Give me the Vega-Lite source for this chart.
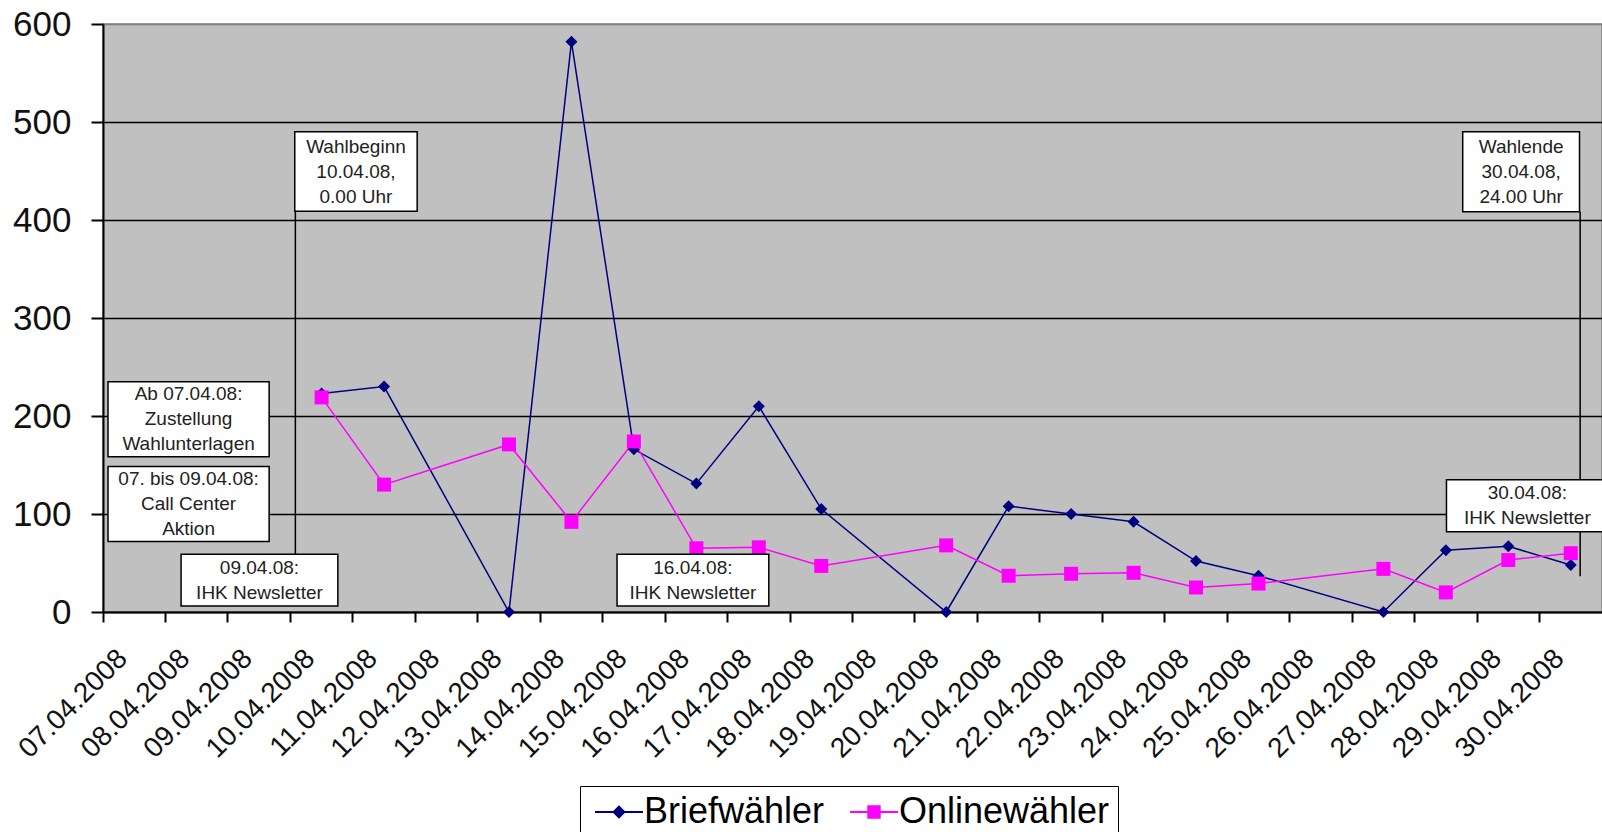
{
  "$schema": "https://vega.github.io/schema/vega-lite/v6.json",
  "width": 1499,
  "height": 588,
  "autosize": {"type": "none"},
  "padding": {"left": 103, "top": 24, "right": 0, "bottom": 220},
  "background": "white",
  "config": {
    "font": "Liberation Sans",
    "view": {"fill": "#C0C0C0", "stroke": "#808080", "strokeWidth": 1.5}
  },
  "datasets": {
    "series": [
      {"date": "10.04.2008", "series": "Briefwähler", "value": 223},
      {"date": "11.04.2008", "series": "Briefwähler", "value": 230},
      {"date": "13.04.2008", "series": "Briefwähler", "value": 0},
      {"date": "14.04.2008", "series": "Briefwähler", "value": 582},
      {"date": "15.04.2008", "series": "Briefwähler", "value": 166},
      {"date": "16.04.2008", "series": "Briefwähler", "value": 131},
      {"date": "17.04.2008", "series": "Briefwähler", "value": 210},
      {"date": "18.04.2008", "series": "Briefwähler", "value": 105},
      {"date": "20.04.2008", "series": "Briefwähler", "value": 0},
      {"date": "21.04.2008", "series": "Briefwähler", "value": 108},
      {"date": "22.04.2008", "series": "Briefwähler", "value": 100},
      {"date": "23.04.2008", "series": "Briefwähler", "value": 92},
      {"date": "24.04.2008", "series": "Briefwähler", "value": 52},
      {"date": "25.04.2008", "series": "Briefwähler", "value": 37},
      {"date": "27.04.2008", "series": "Briefwähler", "value": 0},
      {"date": "28.04.2008", "series": "Briefwähler", "value": 63},
      {"date": "29.04.2008", "series": "Briefwähler", "value": 67},
      {"date": "30.04.2008", "series": "Briefwähler", "value": 48},
      {"date": "10.04.2008", "series": "Onlinewähler", "value": 219},
      {"date": "11.04.2008", "series": "Onlinewähler", "value": 130},
      {"date": "13.04.2008", "series": "Onlinewähler", "value": 171},
      {"date": "14.04.2008", "series": "Onlinewähler", "value": 92},
      {"date": "15.04.2008", "series": "Onlinewähler", "value": 174},
      {"date": "16.04.2008", "series": "Onlinewähler", "value": 65},
      {"date": "17.04.2008", "series": "Onlinewähler", "value": 66},
      {"date": "18.04.2008", "series": "Onlinewähler", "value": 47},
      {"date": "20.04.2008", "series": "Onlinewähler", "value": 68},
      {"date": "21.04.2008", "series": "Onlinewähler", "value": 37},
      {"date": "22.04.2008", "series": "Onlinewähler", "value": 39},
      {"date": "23.04.2008", "series": "Onlinewähler", "value": 40},
      {"date": "24.04.2008", "series": "Onlinewähler", "value": 25},
      {"date": "25.04.2008", "series": "Onlinewähler", "value": 29},
      {"date": "27.04.2008", "series": "Onlinewähler", "value": 44},
      {"date": "28.04.2008", "series": "Onlinewähler", "value": 20},
      {"date": "29.04.2008", "series": "Onlinewähler", "value": 53},
      {"date": "30.04.2008", "series": "Onlinewähler", "value": 60}
    ],
    "ann": [
      {"label": "Wahlbeginn\n10.04.08,\n0.00 Uhr", "x1": 3.07, "x2": 5.03, "y1": 409, "y2": 490},
      {"label": "Wahlende\n30.04.08,\n24.00 Uhr", "x1": 21.77, "x2": 23.64, "y1": 408.5, "y2": 490},
      {"label": "Ab 07.04.08:\nZustellung\nWahlunterlagen", "x1": 0.08, "x2": 2.66, "y1": 158.5, "y2": 235},
      {"label": "07. bis 09.04.08:\nCall Center\nAktion", "x1": 0.08, "x2": 2.66, "y1": 72, "y2": 148.5},
      {"label": "09.04.08:\nIHK Newsletter", "x1": 1.25, "x2": 3.76, "y1": 6, "y2": 59},
      {"label": "16.04.08:\nIHK Newsletter", "x1": 8.23, "x2": 10.66, "y1": 6, "y2": 59},
      {"label": "30.04.08:\nIHK Newsletter", "x1": 21.51, "x2": 24.1, "y1": 81.8, "y2": 135}
    ],
    "rules": [
      {"x": 3.08, "y1": 30, "y2": 409},
      {"x": 23.65, "y1": 36.6, "y2": 408.5}
    ]
  },
  "layer": [
    {
      "data": {"name": "series"},
      "encoding": {
        "x": {
          "field": "date",
          "type": "nominal",
          "bandPosition": 0.5,
          "scale": {
            "type": "band",
            "paddingInner": 0,
            "paddingOuter": 0,
            "domain": ["07.04.2008", "08.04.2008", "09.04.2008", "10.04.2008", "11.04.2008", "12.04.2008", "13.04.2008", "14.04.2008", "15.04.2008", "16.04.2008", "17.04.2008", "18.04.2008", "19.04.2008", "20.04.2008", "21.04.2008", "22.04.2008", "23.04.2008", "24.04.2008", "25.04.2008", "26.04.2008", "27.04.2008", "28.04.2008", "29.04.2008", "30.04.2008"]
          },
          "axis": {
            "title": null,
            "bandPosition": 0,
            "grid": false,
            "domainColor": "black",
            "domainWidth": 2,
            "tickColor": "black",
            "tickWidth": 2,
            "tickSize": 10,
            "labelAngle": -45,
            "labelAlign": "right",
            "labelBaseline": "middle",
            "labelOffset": -11,
            "labelPadding": 32,
            "labelFontSize": 28,
            "labelColor": "#111111",
            "labelOverlap": false,
            "labelFont": "Liberation Sans"
          }
        },
        "y": {
          "field": "value",
          "type": "quantitative",
          "scale": {"domain": [0, 600], "nice": false},
          "axis": {
            "title": null,
            "values": [0, 100, 200, 300, 400, 500, 600],
            "grid": true,
            "gridColor": {"condition": {"test": "datum.value === 600", "value": "#808080"}, "value": "black"},
            "gridWidth": 1.5,
            "gridOpacity": 1,
            "domainColor": "black",
            "domainWidth": 2,
            "tickColor": "black",
            "tickWidth": 2,
            "tickSize": 12,
            "labelPadding": 20,
            "labelFontSize": 35,
            "labelColor": "#111111",
            "labelFont": "Liberation Sans"
          }
        },
        "color": {
          "field": "series",
          "type": "nominal",
          "scale": {"domain": ["Briefwähler", "Onlinewähler"], "range": ["#000080", "#FF00FF"]},
          "legend": {
            "title": null,
            "orient": "none",
            "legendX": 477,
            "legendY": 762,
            "direction": "horizontal",
            "labelFontSize": 36,
            "labelFont": "Liberation Sans",
            "labelColor": "black",
            "labelLimit": 0,
            "symbolSize": 900,
            "symbolStrokeWidth": 2,
            "symbolOffset": 13,
            "labelOffset": 7,
            "columnPadding": 18,
            "padding": 8,
            "strokeColor": "black",
            "encode": {
              "symbols": {
                "update": {
                  "shape": {"signal": "datum.value === 'Briefwähler' ? 'M-1.6,0L1.6,0M0,-0.36L0.36,0L0,0.36L-0.36,0Z' : 'M-1.6,0L1.6,0M-0.38,-0.38L0.38,-0.38L0.38,0.38L-0.38,0.38Z'"},
                  "size": {"value": 900},
                  "fill": {"signal": "datum.value === 'Briefwähler' ? '#000080' : '#FF00FF'"},
                  "stroke": {"signal": "datum.value === 'Briefwähler' ? '#000080' : '#FF00FF'"},
                  "strokeWidth": {"value": 2},
                  "opacity": {"value": 1}
                }
              }
            }
          }
        }
      },
      "layer": [
        {"mark": {"type": "line", "strokeWidth": 1.5}},
        {
          "transform": [{"filter": "datum.series === 'Briefwähler'"}],
          "mark": {"type": "point", "shape": "diamond", "size": 144, "filled": true, "opacity": 1, "strokeWidth": 0}
        },
        {
          "transform": [{"filter": "datum.series === 'Onlinewähler'"}],
          "mark": {"type": "point", "shape": "square", "size": 196, "filled": true, "opacity": 1, "strokeWidth": 0}
        }
      ]
    },
    {
      "data": {"name": "rules"},
      "mark": {"type": "rule", "color": "black", "strokeWidth": 1.5},
      "encoding": {
        "x": {"field": "x", "type": "quantitative", "scale": {"domain": [0, 24], "nice": false, "zero": false}, "axis": null},
        "y": {"field": "y1", "type": "quantitative", "scale": {"domain": [0, 600], "nice": false}},
        "y2": {"field": "y2"}
      }
    },
    {
      "data": {"name": "ann"},
      "mark": {"type": "rect", "fill": "white", "stroke": "black", "strokeWidth": 1.5},
      "encoding": {
        "x": {"field": "x1", "type": "quantitative", "scale": {"domain": [0, 24], "nice": false, "zero": false}, "axis": null},
        "x2": {"field": "x2"},
        "y": {"field": "y1", "type": "quantitative", "scale": {"domain": [0, 600], "nice": false}},
        "y2": {"field": "y2"}
      }
    },
    {
      "data": {"name": "ann"},
      "transform": [
        {"calculate": "(datum.x1 + datum.x2) / 2", "as": "tx"},
        {"calculate": "(datum.y1 + datum.y2) / 2 + (length(split(datum.label, '\\n')) - 1) * 12.75", "as": "ty"}
      ],
      "mark": {"type": "text", "fontSize": 19, "lineHeight": 25, "lineBreak": "\n", "align": "center", "baseline": "middle", "color": "#222222", "font": "Liberation Sans"},
      "encoding": {
        "x": {"field": "tx", "type": "quantitative", "scale": {"domain": [0, 24], "nice": false, "zero": false}, "axis": null},
        "y": {"field": "ty", "type": "quantitative", "scale": {"domain": [0, 600], "nice": false}},
        "text": {"field": "label"}
      }
    }
  ],
  "resolve": {"scale": {"x": "independent"}}
}
